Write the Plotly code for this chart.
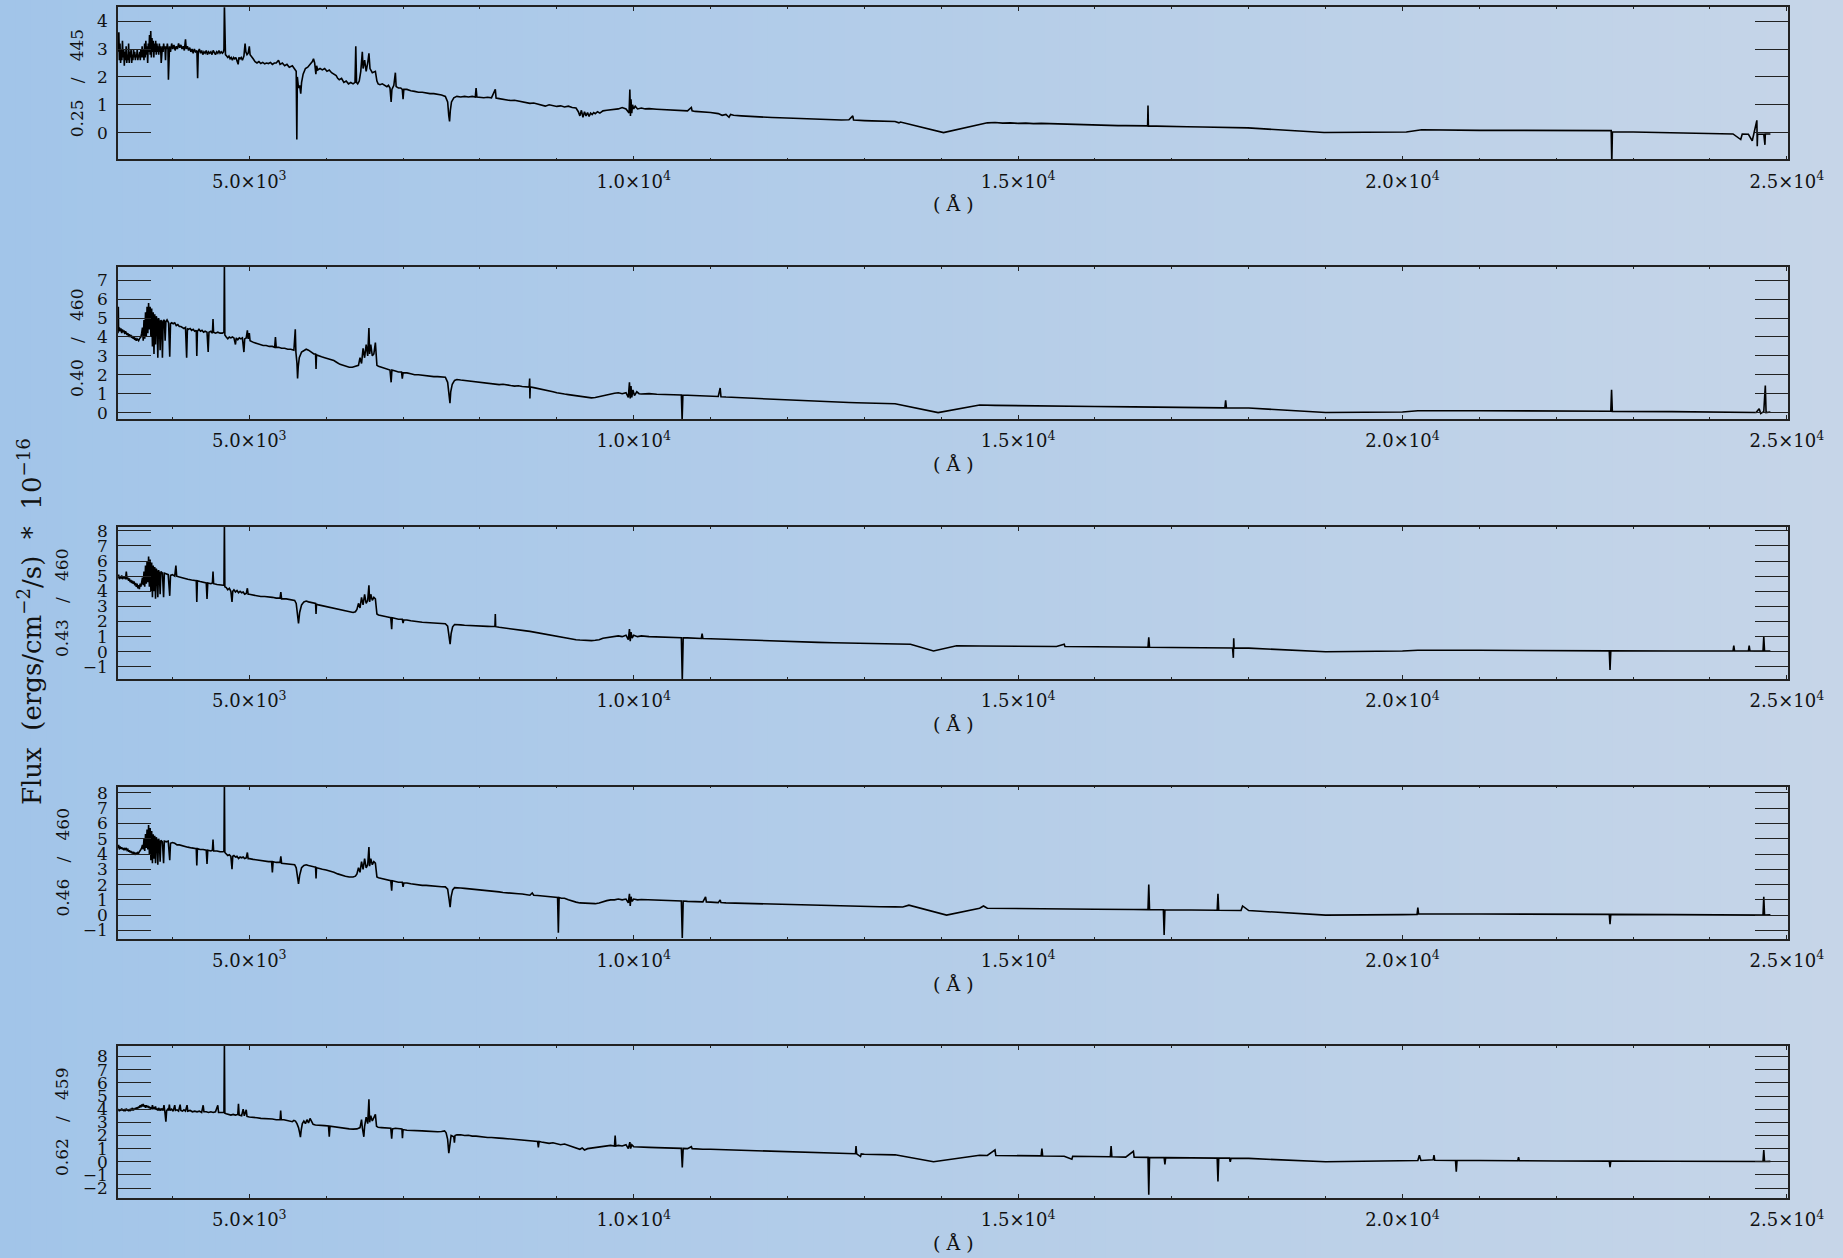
import plotly.graph_objects as go

# ---------------- data ----------------
panel_labels = ["0.25 / 445", "0.40 / 460", "0.43 / 460", "0.46 / 460", "0.62 / 459"]
x_tick_vals = [5000, 10000, 15000, 20000, 25000]
x_tick_text = ["5.0×10<sup>3</sup>", "1.0×10<sup>4</sup>", "1.5×10<sup>4</sup>",
               "2.0×10<sup>4</sup>", "2.5×10<sup>4</sup>"]

spec1 = [
(3295, 2.9),(3303, 3.6),(3310, 2.6),(3318, 3.2),(3326, 2.5),(3334, 3.0),(3342, 2.6),(3350, 3.3),(3358, 2.7),(3366, 3.0),
(3374, 2.4),(3382, 2.9),(3390, 2.6),(3398, 3.1),(3406, 2.5),(3414, 2.8),(3422, 2.6),(3430, 3.2),(3438, 2.5),(3446, 2.9),
(3454, 2.7),(3462, 3.0),(3470, 2.5),(3478, 2.8),(3486, 2.6),(3494, 3.0),(3502, 2.7),(3510, 2.9),(3518, 2.6),(3526, 2.8),
(3534, 2.7),(3542, 3.0),(3550, 2.6),(3558, 2.8),(3566, 2.7),(3574, 2.9),(3582, 2.6),(3590, 3.0),(3598, 2.7),(3606, 3.1),
(3614, 2.7),(3622, 3.0),(3630, 2.6),(3638, 3.2),(3646, 2.7),(3654, 3.3),(3662, 2.8),(3670, 3.1),(3678, 2.5),(3686, 3.2),
(3694, 2.9),(3702, 3.5),(3710, 2.8),(3718, 3.65),(3726, 2.7),(3734, 3.4),(3742, 2.9),(3750, 3.3),(3758, 2.7),(3766, 3.2),
(3774, 2.9),(3782, 3.3),(3790, 2.8),(3798, 3.2),(3806, 2.9),(3814, 3.1),(3822, 2.8),(3830, 3.2),(3838, 2.9),(3846, 3.1),
(3854, 2.5),(3862, 3.0),(3870, 3.1),(3878, 2.9),(3886, 3.2),(3894, 3.0),(3902, 3.1),(3910, 2.6),(3918, 3.1),(3926, 3.0),
(3934, 3.2),(3942, 3.0),(3948, 1.9),(3954, 3.0),(3962, 3.1),(3975, 2.9),(3990, 3.2),(4005, 3.0),(4020, 3.15),(4035, 2.95),
(4050, 3.1),(4065, 3.0),(4080, 3.2),(4095, 3.05),(4110, 3.15),(4125, 3.0),(4140, 3.1),(4155, 2.95),(4170, 3.35),(4180, 3.0),
(4195, 3.1),(4210, 2.95),(4225, 3.05),(4240, 2.9),(4255, 3.0),(4270, 2.85),(4285, 3.0),(4300, 2.9),(4318, 2.95),(4328, 1.95),
(4336, 2.9),(4350, 3.0),(4365, 2.85),(4380, 2.95),(4395, 2.8),(4410, 2.9),(4425, 2.85),(4440, 2.95),(4455, 2.8),(4470, 2.9),
(4485, 2.85),(4500, 2.9),(4515, 2.8),(4530, 2.95),(4545, 2.85),(4560, 2.8),(4575, 2.9),(4590, 2.85),(4605, 2.95),(4620, 2.85),
(4635, 2.9),(4650, 2.85),(4664, 2.9),(4670, 3.0),(4676, 4.6),(4682, 3.0),(4690, 2.8),(4705, 2.75),(4720, 2.7),(4735, 2.75),
(4750, 2.65),(4765, 2.7),(4780, 2.6),(4795, 2.7),(4810, 2.65),(4825, 2.7),(4840, 2.6),(4855, 2.45),(4865, 2.7),(4880, 2.65),
(4895, 2.7),(4910, 2.6),(4930, 2.75),(4945, 3.2),(4955, 2.9),(4970, 2.8),(4985, 2.85),(5000, 3.1),(5010, 2.8),(5030, 2.7),
(5050, 2.65),(5075, 2.55),(5100, 2.5),(5125, 2.55),(5150, 2.48),(5175, 2.52),(5200, 2.47),(5225, 2.5),(5250, 2.48),(5275, 2.52),
(5300, 2.45),(5325, 2.5),(5350, 2.5),(5380, 2.6),(5400, 2.45),(5430, 2.5),(5460, 2.4),(5490, 2.45),(5520, 2.35),(5560, 2.4),
(5590, 2.3),(5610, 2.2),(5618, -0.25),(5625, 2.0),(5640, 1.6),(5655, 1.7),(5669, 1.4),(5680, 1.8),(5700, 2.1),(5730, 2.3),
(5760, 2.35),(5790, 2.45),(5820, 2.55),(5835, 2.65),(5850, 2.5),(5866, 2.1),(5875, 2.4),(5890, 2.25),(5920, 2.3),(5950, 2.25),
(5980, 2.3),(6010, 2.2),(6040, 2.25),(6070, 2.15),(6100, 2.1),(6130, 2.05),(6150, 1.95),(6170, 1.9),(6200, 1.95),(6230, 1.8),
(6260, 1.85),(6290, 1.75),(6320, 1.8),(6350, 1.75),(6375, 1.8),(6385, 3.1),(6395, 1.8),(6410, 1.75),(6430, 1.85),(6450, 2.2),
(6470, 2.9),(6480, 2.3),(6500, 2.6),(6520, 2.2),(6540, 2.5),(6556, 2.85),(6570, 2.3),(6600, 2.15),(6640, 2.2),(6660, 1.85),
(6676, 1.75),(6700, 1.72),(6730, 1.75),(6760, 1.7),(6790, 1.65),(6810, 1.7),(6830, 1.6),(6845, 1.1),(6855, 1.55),(6880, 1.7),
(6900, 2.15),(6910, 1.65),(6940, 1.6),(6970, 1.6),(6990, 1.55),(7000, 1.2),(7010, 1.55),(7050, 1.55),(7100, 1.5),(7150, 1.48),
(7200, 1.45),(7250, 1.45),(7300, 1.42),(7350, 1.4),(7400, 1.4),(7450, 1.38),(7500, 1.35),(7550, 1.3),(7580, 1.1),(7595, 0.6),
(7605, 0.4),(7615, 0.8),(7630, 1.1),(7660, 1.25),(7700, 1.3),(7750, 1.28),(7800, 1.3),(7850, 1.28),(7900, 1.3),(7940, 1.28),
(7950, 1.6),(7960, 1.28),(8000, 1.26),(8050, 1.25),(8100, 1.27),(8150, 1.25),(8200, 1.55),(8210, 1.24),(8250, 1.22),(8300, 1.2),
(8350, 1.18),(8400, 1.15),(8450, 1.16),(8500, 1.13),(8550, 1.1),(8600, 1.08),(8650, 1.05),(8700, 1.06),(8750, 1.02),(8800, 1.0),
(8850, 0.95),(8900, 1.0),(8950, 0.97),(9000, 0.94),(9050, 0.96),(9100, 0.92),(9150, 0.95),(9200, 0.9),(9250, 0.88),(9280, 0.75),
(9300, 0.6),(9320, 0.8),(9340, 0.55),(9360, 0.75),(9380, 0.6),(9400, 0.72),(9420, 0.58),(9440, 0.7),(9460, 0.65),(9480, 0.72),
(9500, 0.68),(9530, 0.75),(9560, 0.7),(9600, 0.78),(9650, 0.8),(9700, 0.82),(9750, 0.85),(9800, 0.85),(9850, 0.9),(9900, 0.85),
(9940, 0.7),(9950, 1.55),(9958, 0.6),(9965, 1.2),(9975, 0.7),(9985, 1.0),(10000, 0.85),(10020, 0.95),(10050, 0.85),(10100, 0.88),
(10150, 0.85),(10200, 0.86),(10300, 0.84),(10400, 0.82),(10500, 0.8),(10600, 0.8),(10700, 0.78),(10750, 0.9),(10760, 0.78),
(10800, 0.76),(10900, 0.75),(11000, 0.72),(11100, 0.68),(11150, 0.62),(11200, 0.65),(11240, 0.55),(11260, 0.65),(11300, 0.62),
(11400, 0.6),(11500, 0.58),(11600, 0.56),(11700, 0.56),(11800, 0.54),(11900, 0.53),(12000, 0.52),(12100, 0.5),(12200, 0.5),
(12300, 0.48),(12400, 0.49),(12500, 0.47),(12600, 0.46),(12700, 0.45),(12800, 0.46),(12850, 0.6),(12860, 0.45),(12900, 0.44),
(13000, 0.43),(13100, 0.42),(13200, 0.41),(13300, 0.41),(13400, 0.4),(13450, 0.35),(13470, 0.38),(14030, 0.0),(14600, 0.35),
(14700, 0.36),(14800, 0.34),(14900, 0.35),(15000, 0.33),(15100, 0.34),(15200, 0.32),(15300, 0.33),(15400, 0.32),(15500, 0.31),
(15600, 0.3),(15700, 0.3),(15800, 0.28),(15900, 0.28),(16000, 0.27),(16100, 0.26),(16200, 0.26),(16300, 0.25),(16400, 0.25),
(16500, 0.24),(16600, 0.24),(16685, 0.24),(16690, 0.97),(16695, 0.23),(16800, 0.23),(16900, 0.22),(17000, 0.22),(17200, 0.21),
(17400, 0.2),(17600, 0.19),(17800, 0.18),(17990, 0.17),(18980, 0.0),(19500, 0.02),(19990, 0.03),(20050, 0.02),(20250, 0.1),
(20500, 0.09),(21000, 0.08),(21500, 0.08),(22000, 0.07),(22500, 0.07),(22715, 0.07),(22723, -1.1),(22731, 0.03),(23000, 0.02),
(23500, 0.0),(24000, -0.02),(24300, -0.05),(24400, -0.25),(24420, -0.05),(24500, -0.06),(24550, -0.3),(24570, -0.05),
(24610, 0.44),(24615, -0.49),(24620, -0.05),(24700, -0.06),(24715, -0.44),(24720, -0.05),(24786, -0.05),
]

spec2 = [
(3292, 4.2),(3296, 5.6),(3300, 4.3),(3310, 4.5),(3320, 4.3),(3330, 4.45),(3340, 4.2),(3350, 4.4),(3360, 4.25),(3370, 4.35),
(3380, 4.15),(3390, 4.3),(3400, 4.2),(3410, 4.1),(3420, 4.2),(3430, 4.0),(3440, 4.15),(3450, 4.0),(3460, 4.1),(3470, 3.95),
(3480, 4.05),(3490, 3.9),(3500, 4.0),(3510, 3.85),(3520, 3.9),(3530, 3.8),(3540, 3.9),(3550, 3.85),(3560, 3.8),(3570, 3.9),
(3580, 3.95),(3590, 4.0),(3600, 4.2),(3610, 4.5),(3620, 3.8),(3630, 4.9),(3640, 3.9),(3650, 5.3),(3660, 4.0),(3670, 5.6),
(3680, 4.2),(3690, 5.8),(3700, 4.4),(3710, 5.6),(3720, 4.0),(3730, 5.5),(3740, 3.5),(3750, 5.3),(3760, 3.1),(3770, 5.2),
(3780, 3.6),(3790, 5.1),(3800, 4.9),(3810, 2.9),(3820, 5.0),(3830, 4.8),(3840, 3.3),(3850, 4.9),(3860, 4.8),(3870, 2.9),
(3880, 4.85),(3895, 4.9),(3905, 3.8),(3915, 4.8),(3930, 4.9),(3950, 4.75),(3965, 2.95),(3975, 4.7),(3990, 4.75),(4010, 4.7),
(4030, 4.75),(4050, 4.6),(4070, 4.65),(4090, 4.55),(4110, 4.55),(4130, 4.5),(4150, 4.45),(4170, 4.5),(4185, 2.9),(4195, 4.45),
(4210, 4.4),(4230, 4.45),(4250, 4.35),(4270, 4.4),(4290, 4.3),(4310, 4.35),(4317, 3.0),(4325, 4.3),(4345, 4.4),(4365, 4.3),
(4385, 4.35),(4405, 4.25),(4425, 4.3),(4450, 4.25),(4465, 3.2),(4475, 4.25),(4500, 4.3),(4520, 4.2),(4528, 4.95),(4535, 4.25),
(4560, 4.2),(4590, 4.25),(4620, 4.2),(4650, 4.2),(4670, 4.25),(4676, 7.9),(4682, 4.1),(4700, 4.0),(4720, 3.9),(4740, 4.0),
(4760, 3.95),(4780, 4.0),(4800, 3.95),(4820, 3.6),(4830, 3.95),(4850, 3.85),(4870, 3.95),(4890, 3.9),(4910, 3.95),(4930, 3.2),
(4940, 3.9),(4960, 3.95),(4975, 4.35),(4985, 3.9),(5000, 4.2),(5010, 3.8),(5030, 3.75),(5060, 3.7),(5100, 3.65),(5140, 3.6),
(5180, 3.55),(5220, 3.55),(5260, 3.5),(5300, 3.5),(5330, 3.45),(5340, 4.0),(5350, 3.45),(5380, 3.45),(5420, 3.4),(5460, 3.4),
(5500, 3.35),(5540, 3.35),(5580, 3.3),(5598, 4.4),(5606, 3.2),(5620, 2.6),(5628, 1.8),(5636, 2.4),(5650, 2.9),(5680, 3.2),
(5710, 3.3),(5740, 3.35),(5770, 3.3),(5800, 3.2),(5840, 3.1),(5862, 3.1),(5868, 2.3),(5874, 3.05),(5900, 3.0),(5940, 2.95),
(5980, 2.9),(6020, 2.85),(6060, 2.8),(6100, 2.75),(6140, 2.65),(6180, 2.55),(6220, 2.5),(6260, 2.45),(6300, 2.4),(6340, 2.4),
(6380, 2.45),(6420, 2.5),(6440, 2.9),(6460, 2.6),(6480, 3.4),(6500, 2.9),(6520, 3.6),(6540, 3.0),(6556, 4.47),(6565, 3.1),
(6580, 3.6),(6600, 3.0),(6620, 3.1),(6640, 3.7),(6660, 2.5),(6680, 2.45),(6720, 2.4),(6760, 2.35),(6800, 2.3),(6830, 2.25),
(6845, 1.6),(6855, 2.25),(6900, 2.2),(6940, 2.15),(6980, 2.15),(6990, 1.8),(7000, 2.1),(7050, 2.1),(7100, 2.05),(7150, 2.0),
(7200, 2.0),(7250, 1.97),(7300, 1.95),(7350, 1.92),(7400, 1.9),(7450, 1.9),(7500, 1.88),(7550, 1.87),(7580, 1.6),(7600, 0.9),
(7610, 0.5),(7620, 1.1),(7640, 1.5),(7670, 1.7),(7700, 1.75),(7750, 1.72),(7800, 1.7),(7850, 1.68),(7900, 1.65),(7950, 1.62),
(8000, 1.6),(8050, 1.58),(8100, 1.55),(8150, 1.55),(8200, 1.52),(8250, 1.48),(8300, 1.5),(8350, 1.45),(8400, 1.43),(8450, 1.4),
(8500, 1.42),(8550, 1.38),(8600, 1.35),(8640, 1.35),(8647, 1.8),(8650, 0.75),(8655, 1.35),(8700, 1.32),(8750, 1.28),(8800, 1.25),
(8850, 1.2),(8900, 1.15),(8950, 1.1),(9000, 1.05),(9050, 1.0),(9100, 0.98),(9150, 0.95),(9200, 0.92),(9250, 0.88),(9300, 0.85),
(9350, 0.82),(9400, 0.8),(9450, 0.78),(9500, 0.8),(9550, 0.85),(9600, 0.9),(9650, 0.95),(9700, 1.0),(9750, 1.02),(9800, 1.05),
(9850, 1.0),(9900, 1.05),(9930, 0.8),(9945, 1.6),(9955, 0.75),(9965, 1.4),(9975, 0.8),(9990, 1.2),(10010, 0.9),(10040, 1.1),
(10070, 1.0),(10100, 0.98),(10200, 1.0),(10300, 0.97),(10400, 0.95),(10500, 0.96),(10620, 0.93),(10630, -0.4),(10640, 0.93),
(10700, 0.92),(10800, 0.9),(10900, 0.88),(11000, 0.86),(11100, 0.85),(11125, 1.3),(11135, 0.84),(11200, 0.82),(11300, 0.8),
(11400, 0.78),(11500, 0.76),(11600, 0.74),(11700, 0.72),(11800, 0.7),(11900, 0.68),(12000, 0.66),(12100, 0.64),(12200, 0.62),
(12300, 0.6),(12400, 0.58),(12500, 0.57),(12600, 0.56),(12700, 0.54),(12800, 0.53),(12900, 0.52),(13000, 0.51),(13100, 0.5),
(13200, 0.49),(13300, 0.48),(13400, 0.47),(13960, 0.0),(14500, 0.4),(14700, 0.38),(15000, 0.36),(15500, 0.34),(16000, 0.32),
(16500, 0.3),(17000, 0.28),(17500, 0.26),(17690, 0.25),(17700, 0.65),(17710, 0.25),(18000, 0.24),(19000, 0.0),(20000, 0.03),
(20200, 0.1),(21000, 0.1),(22000, 0.08),(22710, 0.07),(22720, 1.2),(22730, 0.06),(23500, 0.05),(24400, 0.03),(24600, 0.0),
(24640, 0.2),(24660, -0.05),(24700, 0.05),(24720, 1.43),(24730, 0.0),(24786, 0.03),
]

spec3 = [
(3292, 4.9),(3300, 5.1),(3310, 4.8),(3320, 5.0),(3330, 4.85),(3340, 5.05),(3350, 4.8),(3360, 5.0),(3370, 4.85),(3380, 4.95),
(3390, 4.8),(3400, 5.3),(3410, 4.8),(3420, 4.9),(3430, 4.7),(3440, 4.85),(3450, 4.6),(3460, 4.75),(3470, 4.55),(3480, 4.7),
(3490, 4.5),(3500, 4.65),(3510, 4.4),(3520, 4.55),(3530, 4.3),(3540, 4.5),(3550, 4.2),(3560, 4.4),(3570, 4.15),(3580, 4.5),
(3590, 4.3),(3600, 4.6),(3610, 4.9),(3620, 4.4),(3630, 5.3),(3640, 4.3),(3650, 5.7),(3660, 4.5),(3670, 6.0),(3680, 4.6),
(3690, 6.3),(3700, 4.3),(3710, 6.1),(3720, 4.0),(3730, 5.9),(3740, 3.6),(3750, 5.7),(3760, 4.0),(3770, 5.6),(3780, 3.5),
(3790, 5.5),(3800, 5.3),(3810, 3.6),(3820, 5.4),(3830, 5.2),(3840, 3.8),(3850, 5.3),(3870, 5.2),(3885, 3.6),(3895, 5.2),
(3920, 5.15),(3945, 5.1),(3965, 3.7),(3975, 5.05),(4000, 5.1),(4030, 5.0),(4045, 5.7),(4055, 5.0),(4090, 4.95),(4120, 4.9),
(4150, 4.85),(4180, 4.85),(4200, 4.8),(4250, 4.75),(4310, 4.7),(4317, 3.3),(4325, 4.7),(4360, 4.65),(4400, 4.6),(4440, 4.55),
(4450, 3.5),(4460, 4.55),(4500, 4.5),(4520, 4.55),(4528, 5.3),(4536, 4.5),(4580, 4.45),(4620, 4.4),(4660, 4.4),(4670, 4.4),
(4676, 8.5),(4682, 4.3),(4700, 4.25),(4720, 4.1),(4740, 4.2),(4760, 4.0),(4775, 3.3),(4785, 4.0),(4800, 4.1),(4820, 3.95),
(4840, 4.05),(4860, 3.9),(4880, 4.0),(4900, 3.9),(4920, 3.95),(4940, 3.8),(4960, 3.85),(4975, 4.2),(4985, 3.8),(5000, 3.8),
(5050, 3.75),(5100, 3.7),(5150, 3.65),(5200, 3.65),(5250, 3.6),(5300, 3.6),(5350, 3.55),(5400, 3.55),(5410, 3.95),(5420, 3.5),
(5480, 3.5),(5540, 3.45),(5590, 3.4),(5610, 3.2),(5625, 2.6),(5640, 1.88),(5655, 2.6),(5680, 3.1),(5710, 3.3),(5740, 3.35),
(5770, 3.3),(5800, 3.25),(5850, 3.2),(5862, 3.2),(5868, 2.5),(5874, 3.15),(5900, 3.1),(5950, 3.05),(6000, 3.0),(6050, 2.95),
(6100, 2.85),(6150, 2.8),(6200, 2.76),(6250, 2.7),(6300, 2.65),(6350, 2.6),(6380, 2.65),(6400, 2.8),(6420, 3.2),(6440, 2.9),
(6460, 3.6),(6480, 3.1),(6500, 3.8),(6520, 3.2),(6540, 3.4),(6556, 4.4),(6565, 3.3),(6580, 3.8),(6600, 3.4),(6620, 3.6),
(6640, 3.5),(6660, 2.5),(6680, 2.43),(6720, 2.4),(6760, 2.35),(6800, 2.3),(6840, 2.25),(6852, 1.5),(6860, 2.25),(6900, 2.2),
(6940, 2.15),(6990, 2.15),(7000, 1.9),(7010, 2.1),(7050, 2.1),(7100, 2.05),(7150, 2.0),(7200, 1.98),(7250, 1.95),(7300, 1.95),
(7350, 1.92),(7400, 1.9),(7450, 1.88),(7500, 1.86),(7550, 1.85),(7580, 1.7),(7600, 1.0),(7612, 0.5),(7625, 1.2),(7645, 1.65),
(7670, 1.8),(7700, 1.8),(7750, 1.78),(7800, 1.75),(7850, 1.73),(7900, 1.72),(7950, 1.7),(8000, 1.7),(8050, 1.68),(8100, 1.68),
(8150, 1.67),(8195, 1.67),(8200, 2.5),(8205, 1.66),(8250, 1.62),(8300, 1.58),(8350, 1.55),(8400, 1.52),(8450, 1.48),(8500, 1.45),
(8550, 1.42),(8600, 1.38),(8650, 1.35),(8700, 1.3),(8750, 1.28),(8800, 1.25),(8850, 1.2),(8900, 1.15),(8950, 1.1),(9000, 1.05),
(9050, 1.0),(9100, 0.95),(9150, 0.9),(9200, 0.85),(9250, 0.8),(9300, 0.78),(9350, 0.75),(9400, 0.74),(9450, 0.74),(9500, 0.76),
(9550, 0.8),(9600, 0.9),(9650, 0.95),(9700, 1.0),(9750, 1.0),(9800, 1.05),(9850, 1.0),(9900, 1.1),(9930, 0.8),(9945, 1.5),
(9955, 0.7),(9965, 1.3),(9980, 0.9),(10000, 1.1),(10050, 1.0),(10100, 1.05),(10200, 1.0),(10300, 0.98),(10400, 0.96),
(10500, 0.95),(10620, 0.93),(10632, -1.9),(10644, 0.93),(10700, 0.92),(10800, 0.9),(10880, 0.88),(10890, 1.2),(10900, 0.88),
(11000, 0.86),(11100, 0.84),(11200, 0.82),(11400, 0.78),(11600, 0.74),(11800, 0.71),(12000, 0.68),(12200, 0.65),(12400, 0.62),
(12600, 0.6),(12800, 0.58),(13000, 0.56),(13200, 0.54),(13400, 0.52),(13600, 0.5),(13900, 0.05),(14200, 0.4),(14500, 0.38),
(15000, 0.36),(15500, 0.35),(15600, 0.5),(15610, 0.35),(16000, 0.33),(16500, 0.31),(16690, 0.3),(16700, 0.96),(16710, 0.3),
(17000, 0.28),(17500, 0.26),(17790, 0.25),(17800, -0.4),(17805, 0.9),(17810, 0.25),(18000, 0.24),(19000, 0.0),(20000, 0.05),
(20200, 0.1),(21000, 0.1),(22000, 0.08),(22690, 0.06),(22700, -1.2),(22710, 0.06),(23500, 0.05),(24300, 0.05),(24310, 0.4),
(24320, 0.05),(24500, 0.05),(24510, 0.4),(24520, 0.05),(24690, 0.04),(24700, 1.0),(24710, 0.04),(24786, 0.05),
]

spec4 = [
(3292, 4.4),(3300, 4.6),(3310, 4.3),(3320, 4.5),(3330, 4.35),(3340, 4.45),(3350, 4.3),(3360, 4.4),(3370, 4.25),(3380, 4.35),
(3390, 4.3),(3400, 4.4),(3410, 4.25),(3420, 4.3),(3430, 4.15),(3440, 4.25),(3450, 4.1),(3460, 4.2),(3470, 4.05),(3480, 4.15),
(3490, 4.0),(3500, 4.1),(3510, 4.05),(3520, 3.95),(3530, 4.1),(3540, 4.0),(3550, 4.1),(3560, 4.05),(3570, 4.15),(3580, 4.2),
(3590, 4.3),(3600, 4.4),(3610, 4.6),(3620, 4.3),(3630, 5.0),(3640, 4.2),(3650, 5.3),(3660, 4.4),(3670, 5.6),(3680, 4.3),
(3690, 5.9),(3700, 4.0),(3710, 5.7),(3720, 3.6),(3730, 5.5),(3740, 3.4),(3750, 5.3),(3760, 3.7),(3770, 5.2),(3780, 3.4),
(3790, 5.1),(3800, 4.9),(3810, 3.3),(3820, 5.0),(3830, 4.8),(3840, 3.5),(3850, 4.9),(3870, 4.8),(3885, 3.4),(3895, 4.85),
(3920, 4.8),(3945, 4.85),(3965, 3.6),(3975, 4.7),(4000, 4.75),(4030, 4.7),(4060, 4.6),(4090, 4.6),(4120, 4.55),(4150, 4.5),
(4180, 4.5),(4200, 4.45),(4250, 4.4),(4310, 4.35),(4317, 3.25),(4325, 4.35),(4360, 4.3),(4400, 4.3),(4440, 4.25),(4450, 3.35),
(4460, 4.25),(4500, 4.2),(4520, 4.25),(4528, 4.95),(4536, 4.2),(4580, 4.2),(4620, 4.15),(4660, 4.15),(4670, 4.2),(4676, 8.7),
(4682, 4.1),(4700, 4.0),(4720, 3.9),(4740, 3.95),(4760, 3.85),(4775, 3.0),(4785, 3.85),(4800, 3.9),(4820, 3.8),(4840, 3.85),
(4860, 3.7),(4880, 3.8),(4900, 3.75),(4920, 3.8),(4940, 3.7),(4960, 3.75),(4975, 4.1),(4985, 3.7),(5000, 3.7),(5050, 3.65),
(5100, 3.6),(5150, 3.55),(5200, 3.55),(5250, 3.5),(5290, 3.5),(5300, 2.8),(5310, 3.5),(5350, 3.45),(5400, 3.45),(5410, 3.85),
(5420, 3.4),(5480, 3.35),(5540, 3.3),(5590, 3.3),(5610, 3.1),(5625, 2.6),(5640, 2.05),(5655, 2.6),(5680, 3.1),(5710, 3.25),
(5740, 3.3),(5770, 3.25),(5800, 3.2),(5850, 3.15),(5862, 3.15),(5868, 2.4),(5874, 3.1),(5900, 3.05),(5950, 3.0),(6000, 2.95),
(6050, 2.9),(6100, 2.8),(6150, 2.7),(6200, 2.6),(6250, 2.55),(6300, 2.5),(6350, 2.5),(6380, 2.55),(6400, 2.7),(6420, 3.1),
(6440, 2.8),(6460, 3.5),(6480, 3.0),(6500, 3.7),(6520, 3.1),(6540, 3.3),(6556, 4.46),(6565, 3.2),(6580, 3.7),(6600, 3.3),
(6620, 3.5),(6640, 3.4),(6660, 2.5),(6680, 2.45),(6720, 2.4),(6760, 2.35),(6800, 2.3),(6840, 2.25),(6852, 1.6),(6860, 2.25),
(6900, 2.2),(6940, 2.15),(6990, 2.15),(7000, 1.85),(7010, 2.1),(7050, 2.1),(7100, 2.05),(7150, 2.0),(7200, 1.98),(7250, 1.95),
(7300, 1.95),(7350, 1.92),(7400, 1.9),(7450, 1.88),(7500, 1.86),(7550, 1.85),(7580, 1.7),(7600, 1.0),(7612, 0.52),(7625, 1.2),
(7645, 1.65),(7670, 1.8),(7700, 1.8),(7750, 1.78),(7800, 1.75),(7850, 1.73),(7900, 1.7),(7950, 1.68),(8000, 1.66),(8050, 1.63),
(8100, 1.6),(8150, 1.58),(8200, 1.55),(8250, 1.52),(8300, 1.48),(8350, 1.45),(8400, 1.45),(8450, 1.42),(8500, 1.4),(8550, 1.38),
(8600, 1.35),(8650, 1.3),(8680, 1.45),(8700, 1.3),(8750, 1.28),(8800, 1.25),(8850, 1.22),(8900, 1.2),(8950, 1.18),(9010, 1.15),
(9020, -1.16),(9030, 1.15),(9060, 1.1),(9100, 1.1),(9150, 1.0),(9200, 0.9),(9250, 0.85),(9300, 0.8),(9350, 0.78),(9400, 0.75),
(9450, 0.74),(9500, 0.75),(9550, 0.8),(9600, 0.9),(9650, 0.95),(9700, 1.0),(9750, 1.0),(9800, 1.05),(9850, 1.0),(9900, 1.05),
(9930, 0.8),(9945, 1.4),(9955, 0.6),(9965, 1.2),(9980, 0.9),(10000, 1.05),(10050, 1.0),(10100, 1.02),(10200, 1.0),(10300, 0.98),
(10400, 0.96),(10500, 0.94),(10620, 0.92),(10632, -1.49),(10644, 0.92),(10700, 0.9),(10800, 0.88),(10900, 0.87),(10935, 1.2),
(10945, 0.86),(11000, 0.85),(11100, 0.82),(11125, 1.0),(11135, 0.82),(11200, 0.8),(11400, 0.77),(11600, 0.74),(11800, 0.71),
(12000, 0.68),(12200, 0.66),(12400, 0.63),(12600, 0.6),(12800, 0.58),(13000, 0.56),(13200, 0.55),(13400, 0.54),(13500, 0.53),
(13580, 0.65),(14070, 0.0),(14500, 0.45),(14550, 0.6),(14600, 0.45),(15000, 0.42),(15500, 0.4),(16000, 0.38),(16500, 0.37),
(16690, 0.36),(16700, 2.0),(16710, 0.36),(16890, 0.35),(16900, -1.3),(16910, 0.35),(17200, 0.33),(17590, 0.32),(17600, 1.4),
(17610, 0.32),(17900, 0.3),(17920, 0.6),(18000, 0.3),(19000, 0.0),(20000, 0.03),(20190, 0.05),(20200, 0.5),(20210, 0.07),
(21000, 0.07),(22000, 0.06),(22690, 0.05),(22700, -0.6),(22710, 0.05),(23500, 0.03),(24400, 0.02),(24690, 0.0),(24700, 1.2),
(24710, 0.0),(24786, 0.02),
]

spec5 = [
(3292, 3.9),(3300, 4.0),(3310, 3.85),(3320, 4.0),(3330, 3.9),(3340, 4.05),(3350, 3.9),(3360, 4.0),(3370, 3.85),(3380, 3.95),
(3390, 3.9),(3400, 4.05),(3410, 3.9),(3420, 4.0),(3430, 3.85),(3440, 3.95),(3450, 3.9),(3460, 4.0),(3470, 3.95),(3480, 4.1),
(3490, 3.9),(3500, 4.05),(3510, 3.95),(3520, 4.1),(3530, 4.0),(3540, 4.15),(3550, 4.05),(3560, 4.2),(3570, 4.1),(3580, 4.3),
(3590, 4.15),(3600, 4.35),(3610, 4.2),(3620, 4.4),(3630, 4.2),(3640, 4.3),(3650, 4.1),(3660, 4.3),(3670, 4.15),(3680, 4.25),
(3690, 4.1),(3700, 4.2),(3710, 4.05),(3720, 4.15),(3730, 4.0),(3740, 4.3),(3750, 4.05),(3760, 4.1),(3770, 4.0),(3780, 4.2),
(3790, 3.95),(3800, 4.05),(3810, 3.9),(3820, 4.1),(3830, 3.95),(3840, 4.0),(3850, 3.9),(3860, 4.05),(3880, 3.9),(3890, 4.3),
(3900, 3.9),(3915, 3.05),(3925, 3.9),(3940, 4.0),(3950, 3.9),(3960, 4.35),(3970, 3.9),(3990, 4.0),(4010, 3.85),(4030, 4.3),
(4040, 3.9),(4060, 3.95),(4080, 3.85),(4100, 4.35),(4110, 3.9),(4130, 3.85),(4150, 3.95),(4170, 3.85),(4190, 4.3),(4200, 3.85),
(4230, 3.9),(4260, 3.8),(4290, 3.85),(4320, 3.8),(4350, 3.85),(4380, 3.75),(4400, 4.3),(4410, 3.8),(4440, 3.8),(4470, 3.75),
(4500, 3.8),(4530, 3.75),(4560, 3.8),(4590, 4.3),(4600, 3.75),(4630, 3.75),(4660, 3.7),(4670, 3.75),(4676, 8.9),(4682, 3.7),
(4700, 3.65),(4730, 3.6),(4760, 3.55),(4790, 3.6),(4820, 3.55),(4850, 3.6),(4859, 4.4),(4868, 3.55),(4900, 3.5),(4920, 4.0),
(4935, 3.5),(4960, 3.95),(4970, 3.45),(5000, 3.4),(5030, 3.4),(5060, 3.35),(5100, 3.35),(5150, 3.3),(5200, 3.3),(5250, 3.25),
(5300, 3.25),(5350, 3.2),(5400, 3.2),(5408, 3.9),(5416, 3.2),(5450, 3.2),(5500, 3.15),(5540, 3.1),(5560, 3.05),(5580, 3.15),
(5600, 3.1),(5620, 2.9),(5640, 2.6),(5655, 2.2),(5665, 1.87),(5675, 2.4),(5690, 2.9),(5710, 3.1),(5730, 2.9),(5750, 3.2),
(5770, 2.95),(5790, 3.3),(5810, 3.0),(5830, 2.85),(5860, 2.8),(5900, 2.8),(5940, 2.78),(5980, 2.75),(6030, 2.72),(6040, 1.9),
(6050, 2.7),(6100, 2.65),(6150, 2.6),(6200, 2.55),(6250, 2.5),(6300, 2.5),(6350, 2.48),(6400, 2.5),(6440, 2.6),(6460, 3.2),
(6470, 2.6),(6490, 1.9),(6500, 2.7),(6520, 3.4),(6540, 2.9),(6556, 4.75),(6565, 3.0),(6580, 3.5),(6600, 3.1),(6620, 3.4),
(6640, 3.6),(6655, 2.7),(6676, 2.62),(6720, 2.6),(6760, 2.58),(6800, 2.55),(6840, 2.55),(6852, 1.75),(6862, 2.5),(6900, 2.55),
(6950, 2.5),(6985, 2.5),(6992, 1.8),(7000, 2.45),(7050, 2.4),(7100, 2.4),(7150, 2.38),(7200, 2.35),(7250, 2.35),(7300, 2.33),
(7350, 2.3),(7400, 2.3),(7450, 2.28),(7500, 2.3),(7540, 2.35),(7560, 2.2),(7580, 1.7),(7595, 0.66),(7610, 1.4),(7625, 2.0),
(7660, 1.9),(7668, 1.45),(7676, 2.0),(7700, 2.05),(7750, 2.05),(7800, 2.0),(7850, 2.02),(7900, 1.95),(7950, 1.95),(8000, 1.9),
(8050, 1.88),(8100, 1.85),(8150, 1.85),(8200, 1.8),(8250, 1.8),(8300, 1.78),(8350, 1.75),(8400, 1.72),(8450, 1.7),(8500, 1.68),
(8550, 1.65),(8600, 1.62),(8650, 1.6),(8700, 1.58),(8750, 1.55),(8760, 1.1),(8770, 1.55),(8800, 1.5),(8850, 1.45),(8900, 1.4),
(8950, 1.45),(9000, 1.35),(9050, 1.3),(9100, 1.35),(9150, 1.25),(9200, 1.2),(9250, 1.1),(9300, 0.95),(9330, 1.05),(9360, 0.9),
(9400, 1.0),(9450, 1.05),(9500, 1.1),(9550, 1.12),(9600, 1.15),(9650, 1.2),(9700, 1.25),(9750, 1.2),(9759, 2.0),(9768, 1.2),
(9800, 1.25),(9850, 1.2),(9900, 1.3),(9930, 1.0),(9950, 1.5),(9960, 1.0),(9975, 1.3),(10000, 1.15),(10050, 1.15),(10100, 1.12),
(10200, 1.1),(10300, 1.08),(10400, 1.05),(10500, 1.05),(10620, 1.02),(10632, -0.43),(10644, 1.02),(10700, 1.0),(10750, 1.15),
(10760, 1.0),(10800, 0.98),(10900, 0.96),(11000, 0.95),(11100, 0.93),(11200, 0.9),(11300, 0.88),(11400, 0.86),(11500, 0.84),
(11600, 0.82),(11700, 0.8),(11800, 0.78),(11900, 0.76),(12000, 0.75),(12100, 0.73),(12200, 0.72),(12300, 0.7),(12400, 0.68),
(12500, 0.67),(12600, 0.65),(12700, 0.63),(12800, 0.62),(12885, 0.61),(12892, 1.2),(12900, 0.6),(12950, 0.4),(12960, 0.6),
(13000, 0.58),(13100, 0.56),(13200, 0.55),(13300, 0.54),(13400, 0.53),(13900, 0.0),(14400, 0.45),(14500, 0.5),(14600, 0.48),
(14700, 0.9),(14710, 0.48),(14900, 0.47),(15000, 0.46),(15300, 0.45),(15310, 1.0),(15320, 0.44),(15600, 0.42),(15700, 0.2),
(15710, 0.42),(15900, 0.4),(16200, 0.38),(16210, 1.2),(16220, 0.38),(16400, 0.36),(16500, 0.8),(16510, 0.35),(16690, 0.34),
(16700, -2.5),(16710, 0.34),(16900, 0.32),(16910, -0.2),(16920, 0.32),(17200, 0.3),(17590, 0.28),(17600, -1.5),(17610, 0.28),
(17750, 0.28),(17760, 0.0),(17770, 0.27),(18000, 0.26),(19000, 0.0),(20000, 0.05),(20200, 0.1),(20220, 0.5),(20240, 0.1),
(20400, 0.15),(20410, 0.5),(20420, 0.12),(20690, 0.1),(20700, -0.75),(20710, 0.1),(21000, 0.1),(21500, 0.08),(21510, 0.35),
(21520, 0.08),(22000, 0.06),(22690, 0.05),(22700, -0.4),(22710, 0.05),(23500, 0.04),(24400, 0.03),(24690, 0.02),(24700, 0.9),
(24710, 0.02),(24786, 0.03),
]

spectra = [spec1, spec2, spec3, spec4, spec5]

# ---------------- layout / style ----------------
W, H = 1843, 1258
x_left_px, x_right_px = 118, 1788
panel_tops_px = [7.3, 267, 527, 786.5, 1046]
panel_h_px = 152
y_ranges = [[-0.96, 4.5], [-0.34, 7.7], [-1.8, 8.25], [-1.53, 8.42], [-2.75, 8.8]]
x_range = [3292, 25015]
ylabel_x_px = [77, 77, 62, 62, 62]

SERIF = "DejaVu Serif"
INK = "#111111"
NB = "\u00a0"

fig = go.Figure()
layout = dict(
    width=W, height=H, autosize=False,
    margin=dict(l=0, r=0, t=0, b=0, pad=0),
    paper_bgcolor="rgb(163,197,233)",
    plot_bgcolor="rgba(0,0,0,0)",
    showlegend=False,
    font=dict(family=SERIF, color=INK, size=16),
)

annotations = []
for i, spec in enumerate(spectra):
    n = i + 1
    sx = "" if n == 1 else str(n)
    wl = [p[0] for p in spec]
    fl = [p[1] for p in spec]
    fig.add_trace(go.Scatter(x=wl, y=fl, mode="lines",
                             line=dict(color="black", width=1.6),
                             xaxis="x" + sx, yaxis="y" + sx, hoverinfo="skip"))
    top = panel_tops_px[i]
    bot = top + panel_h_px
    layout["xaxis" + sx] = dict(
        domain=[x_left_px / W, x_right_px / W],
        anchor="y" + sx, range=x_range, automargin=False,
        showline=True, linecolor="#222", linewidth=1.5, mirror="ticks",
        ticks="inside", ticklen=4, tickwidth=1, tickcolor="#222",
        tickvals=x_tick_vals, ticktext=x_tick_text,
        tickfont=dict(family=SERIF, size=18, color=INK),
        ticklabelstandoff=5,
        minor=dict(dtick=1000, tick0=0, ticks="inside", ticklen=2, tickcolor="#222"),
        showgrid=False, zeroline=False,
    )
    layout["yaxis" + sx] = dict(
        domain=[1 - bot / H, 1 - top / H],
        anchor="x" + sx, range=y_ranges[i], automargin=False,
        showline=True, linecolor="#222", linewidth=1.5, mirror="ticks",
        ticks="inside", ticklen=33, tickwidth=1.2, tickcolor="#222",
        dtick=1, tick0=0,
        tickfont=dict(family=SERIF, size=17, color=INK),
        ticklabelstandoff=5,
        showgrid=False, zeroline=False,
    )
    annotations.append(dict(
        x=ylabel_x_px[i] / W, y=1 - (top + panel_h_px / 2) / H,
        xref="paper", yref="paper", xanchor="center", yanchor="middle",
        text=panel_labels[i].replace(" / ", NB * 3 + "/" + NB * 3),
        textangle=-90, showarrow=False,
        font=dict(family=SERIF, size=17, color=INK)))
    annotations.append(dict(
        x=(x_left_px + x_right_px) / 2 / W, y=1 - (bot + 45) / H,
        xref="paper", yref="paper", xanchor="center", yanchor="middle",
        text="(" + NB + "Å" + NB + ")", showarrow=False,
        font=dict(family=SERIF, size=19, color=INK)))

annotations.append(dict(
    x=30 / W, y=1 - 622 / H, xref="paper", yref="paper",
    xanchor="center", yanchor="middle", textangle=-90, showarrow=False,
    text="Flux" + NB * 2 + "(ergs/cm<sup>−2</sup>/s)" + NB * 2 + "*" + NB * 2 + "10<sup>−16</sup>",
    font=dict(family=SERIF, size=26, color=INK)))
layout["annotations"] = annotations

# background gradient (left to right)
c0 = (162, 197, 233)
c1 = (198, 213, 232)
N = 120
shapes = []
for k in range(N):
    t = (k + 0.5) / N
    col = tuple(round(c0[j] + (c1[j] - c0[j]) * t) for j in range(3))
    shapes.append(dict(type="rect", xref="paper", yref="paper",
                       x0=k / N, x1=(k + 1) / N + 0.002, y0=0, y1=1,
                       fillcolor="rgb(%d,%d,%d)" % col, line=dict(width=0),
                       layer="below"))
layout["shapes"] = shapes

fig.update_layout(**layout)

post = """
document.documentElement.style.margin='0px';
document.documentElement.style.overflow='hidden';
document.body.style.margin='0px';
document.body.style.overflow='hidden';
"""
fig.write_html("out.html", config={"displayModeBar": False}, post_script=post)
